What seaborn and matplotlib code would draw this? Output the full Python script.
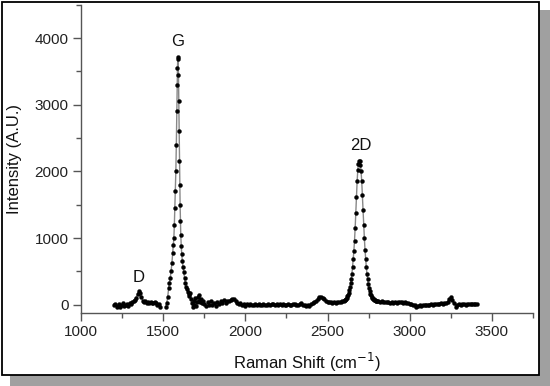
import numpy as np
import pandas as pd
import matplotlib
matplotlib.use("Agg")
import matplotlib.pyplot as plt
from matplotlib.patches import Rectangle
from matplotlib.ticker import MultipleLocator
import seaborn as sns

# ---- data (Raman shift in cm^-1, intensity in A.U.) ----
d_shift = [1200, 1208, 1216, 1224, 1232, 1240, 1248, 1256, 1264, 1272, 1280, 1288,
           1296, 1304, 1312, 1320, 1328, 1336, 1344, 1352, 1360, 1368, 1376, 1384,
           1392, 1400, 1408, 1416, 1424, 1432, 1440, 1448, 1456, 1464, 1472, 1480]
d_int = [-10, 15, -30, -20, 5, -35, -10, 25, -25, 0, 10, -15,
         20, 10, 35, 55, 70, 105, 160, 200, 175, 110, 60, 45,
         55, 30, 45, 25, 40, 30, 20, 40, 30, -10, 5, -40]

g_shift = [1516, 1522, 1528, 1533, 1538, 1543, 1548, 1553, 1558, 1562, 1565, 1568,
           1571, 1574, 1577, 1580, 1583, 1585, 1587, 1589, 1591, 1593, 1595, 1597,
           1599, 1601, 1603, 1605, 1607, 1610, 1613, 1617, 1621, 1625, 1630, 1635,
           1640, 1645, 1650, 1655, 1660, 1665, 1670, 1675, 1680, 1685, 1690, 1695,
           1700, 1705, 1710, 1715, 1720, 1725, 1730, 1735, 1740]
g_int = [-30, 30, 120, 250, 320, 400, 500, 620, 780, 900, 1000, 1200,
         1450, 1700, 2000, 2400, 2900, 3300, 3550, 3720, 3680, 3450, 3050, 2600,
         2150, 1800, 1500, 1250, 1050, 880, 760, 650, 560, 490, 400, 320,
         270, 230, 190, 160, 130, 170, 80, 20, -30, 50, -10, 100,
         -20, 40, 120, 50, 140, 40, 90, 20, 60]

base_shift = [1750, 1760, 1770, 1780, 1790, 1800, 1810, 1820, 1830, 1840, 1850, 1860,
              1870, 1880, 1890, 1900, 1910, 1920, 1930, 1940, 1950, 1960, 1970, 1980,
              1990, 2000, 2010, 2020, 2030, 2040, 2050, 2060, 2070, 2080, 2090, 2100,
              2110, 2120, 2130, 2140, 2150, 2160, 2170, 2180, 2190, 2200, 2210, 2220,
              2230, 2240, 2250, 2260, 2270, 2280, 2290, 2300, 2310, 2320, 2330, 2340,
              2350, 2360, 2370, 2380, 2390, 2400, 2410, 2420, 2430, 2440, 2450, 2460,
              2470, 2480, 2490, 2500, 2510, 2520, 2530, 2540, 2550, 2560, 2570, 2580, 2590]
base_int = [10, -20, 40, 0, 60, -10, 30, -20, 40, 10, 60, 30,
            70, 20, 50, 60, 70, 90, 80, 50, 30, 10, 30, -10,
            10, -15, 5, -10, 10, 0, -10, 5, -5, 10, 0, -5,
            5, 0, -10, 5, 0, 15, 10, 0, 5, -5, 5, 0,
            10, -5, 0, 5, -10, 0, 10, 5, -5, 0, 10, 25,
            0, -10, -20, 0, -15, 10, 20, 40, 60, 90, 115, 120,
            105, 80, 60, 45, 40, 35, 30, 35, 30, 35, 40, 45, 55]

p2d_shift = [2600, 2604, 2608, 2612, 2616, 2620, 2624, 2628, 2632, 2636, 2640, 2644,
             2648, 2652, 2656, 2660, 2664, 2668, 2672, 2676, 2680, 2684, 2688, 2692,
             2696, 2700, 2704, 2708, 2712, 2716, 2720, 2724, 2728, 2732, 2736, 2740,
             2744, 2748, 2752, 2756, 2760, 2764, 2768, 2772, 2776, 2780, 2784, 2788,
             2792, 2796, 2800]
p2d_int = [60, 65, 75, 90, 105, 125, 150, 180, 220, 270, 320, 380,
           460, 560, 680, 800, 960, 1150, 1380, 1620, 1850, 2020, 2110, 2150,
           2150, 2100, 2000, 1850, 1650, 1420, 1200, 1000, 820, 680, 560, 460,
           380, 310, 250, 200, 165, 140, 120, 105, 90, 80, 72, 65,
           60, 55, 52]

tail_shift = [2810, 2820, 2830, 2840, 2850, 2860, 2870, 2880, 2890, 2900, 2910, 2920,
              2930, 2940, 2950, 2960, 2970, 2980, 2990, 3000, 3010, 3020, 3030, 3040,
              3050, 3060, 3070, 3080, 3090, 3100, 3110, 3120, 3130, 3140, 3150, 3160,
              3170, 3180, 3190, 3200, 3210, 3220, 3230, 3240, 3250, 3260, 3270, 3280,
              3290, 3300, 3310, 3320, 3330, 3340, 3350, 3360, 3370, 3380, 3390, 3400, 3410]
tail_int = [50, 45, 50, 40, 45, 35, 40, 30, 35, 30, 35, 30,
            40, 45, 40, 30, 35, 25, 20, 15, 10, 0, -10, -30,
            -15, -5, -20, -10, 0, -10, 0, -5, 5, 0, 10, 5,
            15, 10, 20, 15, 20, 25, 40, 80, 110, 70, 20, -30,
            -10, 10, 0, 5, 10, 0, 5, 10, 5, 10, 15, 10, 15]

peak_labels = ["D", "G", "2D"]
peak_label_x = [1352, 1587, 2705]
peak_label_y = [410, 3945, 2390]

x_ticks = [1000, 1500, 2000, 2500, 3000, 3500]
y_ticks = [0, 1000, 2000, 3000, 4000]

# ---- build table ----
seg1 = pd.DataFrame({"shift": d_shift, "intensity": d_int, "segment": 0})
seg2 = pd.DataFrame({"shift": g_shift + base_shift + p2d_shift + tail_shift,
                     "intensity": g_int + base_int + p2d_int + tail_int,
                     "segment": 1})
df = pd.concat([seg1, seg2], ignore_index=True)

sns.set_style("ticks")
plt.rcParams["font.family"] = ["Liberation Sans", "DejaVu Sans"]

fig = plt.figure(figsize=(5.5, 3.86), dpi=100)
fig.patch.set_facecolor("white")

# shadow and frame
fig.patches.append(Rectangle((10 / 550, 0), 540 / 550, 376 / 386,
                             transform=fig.transFigure, facecolor="#a0a0a0",
                             edgecolor="none", zorder=-10))
fig.patches.append(Rectangle((1.5 / 550, 11 / 386), 537 / 550, 373.5 / 386,
                             transform=fig.transFigure, facecolor="white",
                             edgecolor="black", linewidth=1.3, zorder=-9))

ax = fig.add_axes([81 / 550, 73 / 386, 452 / 550, 308.3 / 386])
ax.patch.set_alpha(0)

sns.lineplot(data=df, x="shift", y="intensity", units="segment", estimator=None,
             color="#888888", linewidth=1.0, sort=False, ax=ax, legend=False)
sns.scatterplot(data=df, x="shift", y="intensity", color="black", s=8,
                edgecolor="black", linewidth=0.3, ax=ax, legend=False, zorder=3)

for lab, lx, ly in zip(peak_labels, peak_label_x, peak_label_y):
    ax.text(lx, ly, lab, ha="center", va="center", fontsize=12, color="#111111")

ax.set_xlim(1000, 3750)
ax.set_ylim(-125, 4500)
ax.set_xticks(x_ticks)
ax.set_yticks(y_ticks)
ax.xaxis.set_minor_locator(MultipleLocator(250))
ax.yaxis.set_minor_locator(MultipleLocator(500))

for s in ["top", "right"]:
    ax.spines[s].set_visible(False)
for s in ["left", "bottom"]:
    ax.spines[s].set_color("#555555")
    ax.spines[s].set_linewidth(1.0)

ax.tick_params(which="major", direction="out", length=6, width=1.0,
               color="#555555", labelsize=11, labelcolor="#222222", pad=3)
ax.tick_params(which="minor", direction="out", length=3.5, width=1.0,
               color="#555555")

ax.set_xlabel("Raman Shift (cm$^{-1}$)", fontsize=12, color="#111111", labelpad=8)
ax.set_ylabel("Intensity (A.U.)", fontsize=12, color="#111111", labelpad=9)

fig.savefig("out.png", dpi=100)
